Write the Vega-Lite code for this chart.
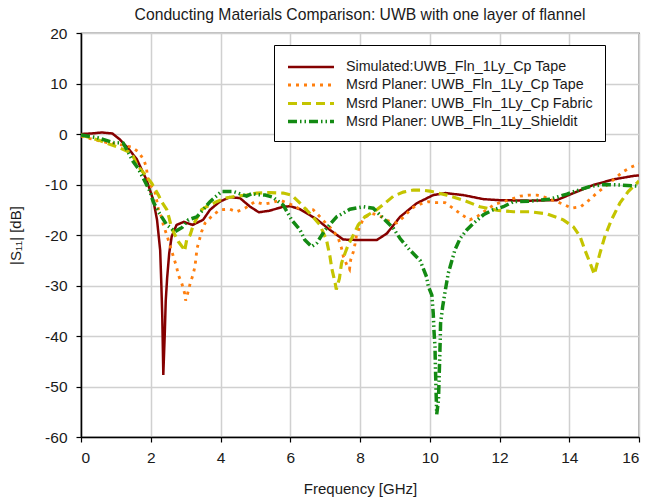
{
  "$schema": "https://vega.github.io/schema/vega-lite/v6.json",
  "width": 558,
  "height": 404,
  "autosize": "none",
  "padding": {"left": 81, "top": 33, "right": 9, "bottom": 65},
  "title": {"text": "Conducting Materials Comparison: UWB with one layer of flannel", "fontSize": 15.7, "fontWeight": "normal", "color": "#1a1a1a", "anchor": "middle", "offset": 2, "font": "Liberation Sans"},
  "config": {
    "font": "Liberation Sans",
    "view": {"stroke": "black", "strokeWidth": 1.2},
    "axis": {"grid": true, "gridColor": "#D0D0D0", "gridWidth": 1.5, "domainColor": "black", "domainWidth": 1.5, "tickColor": "black", "tickSize": 5, "tickWidth": 1.2, "labelColor": "#1a1a1a", "labelFontSize": 15.5, "titleFontSize": 15, "titleFontWeight": "normal", "titleColor": "#1a1a1a"}
  },
  "data": {"values": [
    {"s":"Simulated:UWB_Fln_1Ly_Cp Tape","f":0,"db":0},{"s":"Simulated:UWB_Fln_1Ly_Cp Tape","f":0.3,"db":0.1},{"s":"Simulated:UWB_Fln_1Ly_Cp Tape","f":0.6,"db":0.3},{"s":"Simulated:UWB_Fln_1Ly_Cp Tape","f":0.9,"db":0.1},{"s":"Simulated:UWB_Fln_1Ly_Cp Tape","f":1.1,"db":-1.0},{"s":"Simulated:UWB_Fln_1Ly_Cp Tape","f":1.35,"db":-2.8},{"s":"Simulated:UWB_Fln_1Ly_Cp Tape","f":1.6,"db":-5},{"s":"Simulated:UWB_Fln_1Ly_Cp Tape","f":1.88,"db":-9.1},{"s":"Simulated:UWB_Fln_1Ly_Cp Tape","f":2.07,"db":-13},{"s":"Simulated:UWB_Fln_1Ly_Cp Tape","f":2.18,"db":-17},{"s":"Simulated:UWB_Fln_1Ly_Cp Tape","f":2.27,"db":-23},{"s":"Simulated:UWB_Fln_1Ly_Cp Tape","f":2.3,"db":-29},{"s":"Simulated:UWB_Fln_1Ly_Cp Tape","f":2.33,"db":-36},{"s":"Simulated:UWB_Fln_1Ly_Cp Tape","f":2.36,"db":-47.7},{"s":"Simulated:UWB_Fln_1Ly_Cp Tape","f":2.4,"db":-40},{"s":"Simulated:UWB_Fln_1Ly_Cp Tape","f":2.43,"db":-33},{"s":"Simulated:UWB_Fln_1Ly_Cp Tape","f":2.47,"db":-28.5},{"s":"Simulated:UWB_Fln_1Ly_Cp Tape","f":2.53,"db":-23.6},{"s":"Simulated:UWB_Fln_1Ly_Cp Tape","f":2.6,"db":-20.3},{"s":"Simulated:UWB_Fln_1Ly_Cp Tape","f":2.74,"db":-18},{"s":"Simulated:UWB_Fln_1Ly_Cp Tape","f":2.95,"db":-17.4},{"s":"Simulated:UWB_Fln_1Ly_Cp Tape","f":3.2,"db":-18},{"s":"Simulated:UWB_Fln_1Ly_Cp Tape","f":3.5,"db":-17},{"s":"Simulated:UWB_Fln_1Ly_Cp Tape","f":3.7,"db":-15},{"s":"Simulated:UWB_Fln_1Ly_Cp Tape","f":3.98,"db":-13.4},{"s":"Simulated:UWB_Fln_1Ly_Cp Tape","f":4.27,"db":-12.5},{"s":"Simulated:UWB_Fln_1Ly_Cp Tape","f":4.56,"db":-12.7},{"s":"Simulated:UWB_Fln_1Ly_Cp Tape","f":4.85,"db":-14.4},{"s":"Simulated:UWB_Fln_1Ly_Cp Tape","f":5.1,"db":-15.5},{"s":"Simulated:UWB_Fln_1Ly_Cp Tape","f":5.4,"db":-15.2},{"s":"Simulated:UWB_Fln_1Ly_Cp Tape","f":5.8,"db":-14.4},{"s":"Simulated:UWB_Fln_1Ly_Cp Tape","f":6.0,"db":-14.3},{"s":"Simulated:UWB_Fln_1Ly_Cp Tape","f":6.28,"db":-14.9},{"s":"Simulated:UWB_Fln_1Ly_Cp Tape","f":6.76,"db":-16.9},{"s":"Simulated:UWB_Fln_1Ly_Cp Tape","f":7.14,"db":-19},{"s":"Simulated:UWB_Fln_1Ly_Cp Tape","f":7.52,"db":-20.9},{"s":"Simulated:UWB_Fln_1Ly_Cp Tape","f":8.0,"db":-21},{"s":"Simulated:UWB_Fln_1Ly_Cp Tape","f":8.48,"db":-21},{"s":"Simulated:UWB_Fln_1Ly_Cp Tape","f":8.77,"db":-19.7},{"s":"Simulated:UWB_Fln_1Ly_Cp Tape","f":9.15,"db":-16.4},{"s":"Simulated:UWB_Fln_1Ly_Cp Tape","f":9.63,"db":-13.7},{"s":"Simulated:UWB_Fln_1Ly_Cp Tape","f":10.1,"db":-12.1},{"s":"Simulated:UWB_Fln_1Ly_Cp Tape","f":10.45,"db":-11.7},{"s":"Simulated:UWB_Fln_1Ly_Cp Tape","f":10.96,"db":-12.1},{"s":"Simulated:UWB_Fln_1Ly_Cp Tape","f":11.54,"db":-12.9},{"s":"Simulated:UWB_Fln_1Ly_Cp Tape","f":12.0,"db":-13.1},{"s":"Simulated:UWB_Fln_1Ly_Cp Tape","f":12.87,"db":-13.2},{"s":"Simulated:UWB_Fln_1Ly_Cp Tape","f":13.64,"db":-13.1},{"s":"Simulated:UWB_Fln_1Ly_Cp Tape","f":14.12,"db":-11.7},{"s":"Simulated:UWB_Fln_1Ly_Cp Tape","f":14.69,"db":-10.1},{"s":"Simulated:UWB_Fln_1Ly_Cp Tape","f":15.26,"db":-9.0},{"s":"Simulated:UWB_Fln_1Ly_Cp Tape","f":15.84,"db":-8.3},{"s":"Simulated:UWB_Fln_1Ly_Cp Tape","f":16,"db":-8.2},

    {"s":"Msrd Planer: UWB_Fln_1Ly_Cp Tape","f":0,"db":-0.4},{"s":"Msrd Planer: UWB_Fln_1Ly_Cp Tape","f":0.26,"db":-0.9},{"s":"Msrd Planer: UWB_Fln_1Ly_Cp Tape","f":0.74,"db":-1.7},{"s":"Msrd Planer: UWB_Fln_1Ly_Cp Tape","f":1.2,"db":-2.2},{"s":"Msrd Planer: UWB_Fln_1Ly_Cp Tape","f":1.45,"db":-2.6},{"s":"Msrd Planer: UWB_Fln_1Ly_Cp Tape","f":1.64,"db":-3.5},{"s":"Msrd Planer: UWB_Fln_1Ly_Cp Tape","f":1.8,"db":-5.1},{"s":"Msrd Planer: UWB_Fln_1Ly_Cp Tape","f":1.87,"db":-6.5},{"s":"Msrd Planer: UWB_Fln_1Ly_Cp Tape","f":1.93,"db":-9.4},{"s":"Msrd Planer: UWB_Fln_1Ly_Cp Tape","f":2.12,"db":-11.4},{"s":"Msrd Planer: UWB_Fln_1Ly_Cp Tape","f":2.22,"db":-14.9},{"s":"Msrd Planer: UWB_Fln_1Ly_Cp Tape","f":2.31,"db":-16.5},{"s":"Msrd Planer: UWB_Fln_1Ly_Cp Tape","f":2.36,"db":-18},{"s":"Msrd Planer: UWB_Fln_1Ly_Cp Tape","f":2.46,"db":-20},{"s":"Msrd Planer: UWB_Fln_1Ly_Cp Tape","f":2.65,"db":-24.3},{"s":"Msrd Planer: UWB_Fln_1Ly_Cp Tape","f":2.74,"db":-26.3},{"s":"Msrd Planer: UWB_Fln_1Ly_Cp Tape","f":2.79,"db":-27.9},{"s":"Msrd Planer: UWB_Fln_1Ly_Cp Tape","f":2.89,"db":-29.6},{"s":"Msrd Planer: UWB_Fln_1Ly_Cp Tape","f":2.97,"db":-31.5},{"s":"Msrd Planer: UWB_Fln_1Ly_Cp Tape","f":3.0,"db":-33},{"s":"Msrd Planer: UWB_Fln_1Ly_Cp Tape","f":3.08,"db":-31},{"s":"Msrd Planer: UWB_Fln_1Ly_Cp Tape","f":3.13,"db":-29.6},{"s":"Msrd Planer: UWB_Fln_1Ly_Cp Tape","f":3.22,"db":-27.7},{"s":"Msrd Planer: UWB_Fln_1Ly_Cp Tape","f":3.27,"db":-26.1},{"s":"Msrd Planer: UWB_Fln_1Ly_Cp Tape","f":3.3,"db":-24.3},{"s":"Msrd Planer: UWB_Fln_1Ly_Cp Tape","f":3.33,"db":-22.6},{"s":"Msrd Planer: UWB_Fln_1Ly_Cp Tape","f":3.46,"db":-19.3},{"s":"Msrd Planer: UWB_Fln_1Ly_Cp Tape","f":3.56,"db":-17.6},{"s":"Msrd Planer: UWB_Fln_1Ly_Cp Tape","f":3.79,"db":-16},{"s":"Msrd Planer: UWB_Fln_1Ly_Cp Tape","f":3.99,"db":-15},{"s":"Msrd Planer: UWB_Fln_1Ly_Cp Tape","f":4.27,"db":-14.9},{"s":"Msrd Planer: UWB_Fln_1Ly_Cp Tape","f":4.46,"db":-15.4},{"s":"Msrd Planer: UWB_Fln_1Ly_Cp Tape","f":4.7,"db":-14.7},{"s":"Msrd Planer: UWB_Fln_1Ly_Cp Tape","f":4.99,"db":-13.4},{"s":"Msrd Planer: UWB_Fln_1Ly_Cp Tape","f":5.23,"db":-13.9},{"s":"Msrd Planer: UWB_Fln_1Ly_Cp Tape","f":5.47,"db":-13.6},{"s":"Msrd Planer: UWB_Fln_1Ly_Cp Tape","f":5.71,"db":-13.1},{"s":"Msrd Planer: UWB_Fln_1Ly_Cp Tape","f":6.0,"db":-13.9},{"s":"Msrd Planer: UWB_Fln_1Ly_Cp Tape","f":6.23,"db":-14.7},{"s":"Msrd Planer: UWB_Fln_1Ly_Cp Tape","f":6.47,"db":-14.9},{"s":"Msrd Planer: UWB_Fln_1Ly_Cp Tape","f":6.66,"db":-15.0},{"s":"Msrd Planer: UWB_Fln_1Ly_Cp Tape","f":6.85,"db":-16.4},{"s":"Msrd Planer: UWB_Fln_1Ly_Cp Tape","f":7.04,"db":-17.8},{"s":"Msrd Planer: UWB_Fln_1Ly_Cp Tape","f":7.23,"db":-19.1},{"s":"Msrd Planer: UWB_Fln_1Ly_Cp Tape","f":7.38,"db":-20.7},{"s":"Msrd Planer: UWB_Fln_1Ly_Cp Tape","f":7.47,"db":-22.6},{"s":"Msrd Planer: UWB_Fln_1Ly_Cp Tape","f":7.52,"db":-24.2},{"s":"Msrd Planer: UWB_Fln_1Ly_Cp Tape","f":7.62,"db":-25.9},{"s":"Msrd Planer: UWB_Fln_1Ly_Cp Tape","f":7.7,"db":-26.8},{"s":"Msrd Planer: UWB_Fln_1Ly_Cp Tape","f":7.73,"db":-25},{"s":"Msrd Planer: UWB_Fln_1Ly_Cp Tape","f":7.81,"db":-23.3},{"s":"Msrd Planer: UWB_Fln_1Ly_Cp Tape","f":7.86,"db":-21.7},{"s":"Msrd Planer: UWB_Fln_1Ly_Cp Tape","f":7.9,"db":-20},{"s":"Msrd Planer: UWB_Fln_1Ly_Cp Tape","f":8.0,"db":-18.3},{"s":"Msrd Planer: UWB_Fln_1Ly_Cp Tape","f":8.1,"db":-16.7},{"s":"Msrd Planer: UWB_Fln_1Ly_Cp Tape","f":8.33,"db":-15.7},{"s":"Msrd Planer: UWB_Fln_1Ly_Cp Tape","f":8.57,"db":-16.2},{"s":"Msrd Planer: UWB_Fln_1Ly_Cp Tape","f":8.81,"db":-17.2},{"s":"Msrd Planer: UWB_Fln_1Ly_Cp Tape","f":9.05,"db":-17.6},{"s":"Msrd Planer: UWB_Fln_1Ly_Cp Tape","f":9.29,"db":-16.2},{"s":"Msrd Planer: UWB_Fln_1Ly_Cp Tape","f":9.48,"db":-14.7},{"s":"Msrd Planer: UWB_Fln_1Ly_Cp Tape","f":9.72,"db":-13.9},{"s":"Msrd Planer: UWB_Fln_1Ly_Cp Tape","f":9.96,"db":-13.4},{"s":"Msrd Planer: UWB_Fln_1Ly_Cp Tape","f":10.2,"db":-13.6},{"s":"Msrd Planer: UWB_Fln_1Ly_Cp Tape","f":10.44,"db":-13.6},{"s":"Msrd Planer: UWB_Fln_1Ly_Cp Tape","f":10.67,"db":-14.7},{"s":"Msrd Planer: UWB_Fln_1Ly_Cp Tape","f":10.92,"db":-16.0},{"s":"Msrd Planer: UWB_Fln_1Ly_Cp Tape","f":11.15,"db":-17.0},{"s":"Msrd Planer: UWB_Fln_1Ly_Cp Tape","f":11.39,"db":-16.2},{"s":"Msrd Planer: UWB_Fln_1Ly_Cp Tape","f":11.63,"db":-15.0},{"s":"Msrd Planer: UWB_Fln_1Ly_Cp Tape","f":11.87,"db":-13.9},{"s":"Msrd Planer: UWB_Fln_1Ly_Cp Tape","f":12.11,"db":-13.4},{"s":"Msrd Planer: UWB_Fln_1Ly_Cp Tape","f":12.35,"db":-12.9},{"s":"Msrd Planer: UWB_Fln_1Ly_Cp Tape","f":12.59,"db":-12.3},{"s":"Msrd Planer: UWB_Fln_1Ly_Cp Tape","f":12.85,"db":-12.1},{"s":"Msrd Planer: UWB_Fln_1Ly_Cp Tape","f":13.08,"db":-12.1},{"s":"Msrd Planer: UWB_Fln_1Ly_Cp Tape","f":13.33,"db":-12.6},{"s":"Msrd Planer: UWB_Fln_1Ly_Cp Tape","f":13.56,"db":-13.2},{"s":"Msrd Planer: UWB_Fln_1Ly_Cp Tape","f":13.83,"db":-13.9},{"s":"Msrd Planer: UWB_Fln_1Ly_Cp Tape","f":14.07,"db":-14.7},{"s":"Msrd Planer: UWB_Fln_1Ly_Cp Tape","f":14.33,"db":-14.4},{"s":"Msrd Planer: UWB_Fln_1Ly_Cp Tape","f":14.55,"db":-13.2},{"s":"Msrd Planer: UWB_Fln_1Ly_Cp Tape","f":14.79,"db":-11.7},{"s":"Msrd Planer: UWB_Fln_1Ly_Cp Tape","f":15.05,"db":-10.3},{"s":"Msrd Planer: UWB_Fln_1Ly_Cp Tape","f":15.28,"db":-9.0},{"s":"Msrd Planer: UWB_Fln_1Ly_Cp Tape","f":15.53,"db":-7.5},{"s":"Msrd Planer: UWB_Fln_1Ly_Cp Tape","f":15.76,"db":-6.6},{"s":"Msrd Planer: UWB_Fln_1Ly_Cp Tape","f":16.0,"db":-5.9},

    {"s":"Msrd Planer: UWB_Fln_1Ly_Cp Fabric","f":0,"db":-0.2},{"s":"Msrd Planer: UWB_Fln_1Ly_Cp Fabric","f":0.5,"db":-1.2},{"s":"Msrd Planer: UWB_Fln_1Ly_Cp Fabric","f":0.74,"db":-1.8},{"s":"Msrd Planer: UWB_Fln_1Ly_Cp Fabric","f":1.02,"db":-2.5},{"s":"Msrd Planer: UWB_Fln_1Ly_Cp Fabric","f":1.36,"db":-3.5},{"s":"Msrd Planer: UWB_Fln_1Ly_Cp Fabric","f":1.5,"db":-4.5},{"s":"Msrd Planer: UWB_Fln_1Ly_Cp Fabric","f":1.6,"db":-6.1},{"s":"Msrd Planer: UWB_Fln_1Ly_Cp Fabric","f":1.88,"db":-8.4},{"s":"Msrd Planer: UWB_Fln_1Ly_Cp Fabric","f":2.03,"db":-9.8},{"s":"Msrd Planer: UWB_Fln_1Ly_Cp Fabric","f":2.22,"db":-12.1},{"s":"Msrd Planer: UWB_Fln_1Ly_Cp Fabric","f":2.31,"db":-13.4},{"s":"Msrd Planer: UWB_Fln_1Ly_Cp Fabric","f":2.46,"db":-15},{"s":"Msrd Planer: UWB_Fln_1Ly_Cp Fabric","f":2.53,"db":-16.7},{"s":"Msrd Planer: UWB_Fln_1Ly_Cp Fabric","f":2.6,"db":-18.7},{"s":"Msrd Planer: UWB_Fln_1Ly_Cp Fabric","f":2.79,"db":-21.3},{"s":"Msrd Planer: UWB_Fln_1Ly_Cp Fabric","f":2.93,"db":-22.6},{"s":"Msrd Planer: UWB_Fln_1Ly_Cp Fabric","f":2.97,"db":-23.2},{"s":"Msrd Planer: UWB_Fln_1Ly_Cp Fabric","f":3.03,"db":-21},{"s":"Msrd Planer: UWB_Fln_1Ly_Cp Fabric","f":3.13,"db":-20},{"s":"Msrd Planer: UWB_Fln_1Ly_Cp Fabric","f":3.22,"db":-18},{"s":"Msrd Planer: UWB_Fln_1Ly_Cp Fabric","f":3.32,"db":-16.7},{"s":"Msrd Planer: UWB_Fln_1Ly_Cp Fabric","f":3.46,"db":-15},{"s":"Msrd Planer: UWB_Fln_1Ly_Cp Fabric","f":3.6,"db":-14.4},{"s":"Msrd Planer: UWB_Fln_1Ly_Cp Fabric","f":3.89,"db":-13.4},{"s":"Msrd Planer: UWB_Fln_1Ly_Cp Fabric","f":4.13,"db":-12.7},{"s":"Msrd Planer: UWB_Fln_1Ly_Cp Fabric","f":4.46,"db":-12.3},{"s":"Msrd Planer: UWB_Fln_1Ly_Cp Fabric","f":4.75,"db":-12.1},{"s":"Msrd Planer: UWB_Fln_1Ly_Cp Fabric","f":5.04,"db":-11.7},{"s":"Msrd Planer: UWB_Fln_1Ly_Cp Fabric","f":5.4,"db":-11.6},{"s":"Msrd Planer: UWB_Fln_1Ly_Cp Fabric","f":5.8,"db":-11.7},{"s":"Msrd Planer: UWB_Fln_1Ly_Cp Fabric","f":6.04,"db":-12.1},{"s":"Msrd Planer: UWB_Fln_1Ly_Cp Fabric","f":6.28,"db":-13.7},{"s":"Msrd Planer: UWB_Fln_1Ly_Cp Fabric","f":6.56,"db":-15.7},{"s":"Msrd Planer: UWB_Fln_1Ly_Cp Fabric","f":6.85,"db":-18},{"s":"Msrd Planer: UWB_Fln_1Ly_Cp Fabric","f":7.04,"db":-21},{"s":"Msrd Planer: UWB_Fln_1Ly_Cp Fabric","f":7.14,"db":-24.3},{"s":"Msrd Planer: UWB_Fln_1Ly_Cp Fabric","f":7.19,"db":-26.6},{"s":"Msrd Planer: UWB_Fln_1Ly_Cp Fabric","f":7.29,"db":-29.6},{"s":"Msrd Planer: UWB_Fln_1Ly_Cp Fabric","f":7.32,"db":-30.8},{"s":"Msrd Planer: UWB_Fln_1Ly_Cp Fabric","f":7.41,"db":-28.6},{"s":"Msrd Planer: UWB_Fln_1Ly_Cp Fabric","f":7.47,"db":-25.6},{"s":"Msrd Planer: UWB_Fln_1Ly_Cp Fabric","f":7.57,"db":-23.6},{"s":"Msrd Planer: UWB_Fln_1Ly_Cp Fabric","f":7.66,"db":-22},{"s":"Msrd Planer: UWB_Fln_1Ly_Cp Fabric","f":7.81,"db":-20},{"s":"Msrd Planer: UWB_Fln_1Ly_Cp Fabric","f":7.95,"db":-18},{"s":"Msrd Planer: UWB_Fln_1Ly_Cp Fabric","f":8.14,"db":-16.4},{"s":"Msrd Planer: UWB_Fln_1Ly_Cp Fabric","f":8.48,"db":-15},{"s":"Msrd Planer: UWB_Fln_1Ly_Cp Fabric","f":8.7,"db":-13.8},{"s":"Msrd Planer: UWB_Fln_1Ly_Cp Fabric","f":8.96,"db":-12.3},{"s":"Msrd Planer: UWB_Fln_1Ly_Cp Fabric","f":9.24,"db":-11.5},{"s":"Msrd Planer: UWB_Fln_1Ly_Cp Fabric","f":9.53,"db":-11.1},{"s":"Msrd Planer: UWB_Fln_1Ly_Cp Fabric","f":9.75,"db":-11.1},{"s":"Msrd Planer: UWB_Fln_1Ly_Cp Fabric","f":10.0,"db":-11.3},{"s":"Msrd Planer: UWB_Fln_1Ly_Cp Fabric","f":10.49,"db":-12.1},{"s":"Msrd Planer: UWB_Fln_1Ly_Cp Fabric","f":10.96,"db":-13.1},{"s":"Msrd Planer: UWB_Fln_1Ly_Cp Fabric","f":11.44,"db":-14.4},{"s":"Msrd Planer: UWB_Fln_1Ly_Cp Fabric","f":11.92,"db":-15.1},{"s":"Msrd Planer: UWB_Fln_1Ly_Cp Fabric","f":12.4,"db":-15.4},{"s":"Msrd Planer: UWB_Fln_1Ly_Cp Fabric","f":12.87,"db":-15.4},{"s":"Msrd Planer: UWB_Fln_1Ly_Cp Fabric","f":13.35,"db":-15.8},{"s":"Msrd Planer: UWB_Fln_1Ly_Cp Fabric","f":13.83,"db":-17.0},{"s":"Msrd Planer: UWB_Fln_1Ly_Cp Fabric","f":14.12,"db":-18.4},{"s":"Msrd Planer: UWB_Fln_1Ly_Cp Fabric","f":14.31,"db":-20.3},{"s":"Msrd Planer: UWB_Fln_1Ly_Cp Fabric","f":14.45,"db":-23},{"s":"Msrd Planer: UWB_Fln_1Ly_Cp Fabric","f":14.6,"db":-25.6},{"s":"Msrd Planer: UWB_Fln_1Ly_Cp Fabric","f":14.72,"db":-27.8},{"s":"Msrd Planer: UWB_Fln_1Ly_Cp Fabric","f":14.88,"db":-23.6},{"s":"Msrd Planer: UWB_Fln_1Ly_Cp Fabric","f":15.02,"db":-20.3},{"s":"Msrd Planer: UWB_Fln_1Ly_Cp Fabric","f":15.21,"db":-17},{"s":"Msrd Planer: UWB_Fln_1Ly_Cp Fabric","f":15.45,"db":-13.7},{"s":"Msrd Planer: UWB_Fln_1Ly_Cp Fabric","f":15.69,"db":-11.4},{"s":"Msrd Planer: UWB_Fln_1Ly_Cp Fabric","f":15.93,"db":-9.8},{"s":"Msrd Planer: UWB_Fln_1Ly_Cp Fabric","f":16,"db":-9.3},

    {"s":"Msrd Planer: UWB_Fln_1Ly_Shieldit","f":0,"db":-0.2},{"s":"Msrd Planer: UWB_Fln_1Ly_Shieldit","f":0.5,"db":-0.8},{"s":"Msrd Planer: UWB_Fln_1Ly_Shieldit","f":0.93,"db":-1.7},{"s":"Msrd Planer: UWB_Fln_1Ly_Shieldit","f":1.21,"db":-1.8},{"s":"Msrd Planer: UWB_Fln_1Ly_Shieldit","f":1.5,"db":-5.5},{"s":"Msrd Planer: UWB_Fln_1Ly_Shieldit","f":1.64,"db":-6.8},{"s":"Msrd Planer: UWB_Fln_1Ly_Shieldit","f":1.98,"db":-11.4},{"s":"Msrd Planer: UWB_Fln_1Ly_Shieldit","f":2.07,"db":-13.4},{"s":"Msrd Planer: UWB_Fln_1Ly_Shieldit","f":2.22,"db":-15.4},{"s":"Msrd Planer: UWB_Fln_1Ly_Shieldit","f":2.46,"db":-18},{"s":"Msrd Planer: UWB_Fln_1Ly_Shieldit","f":2.7,"db":-19.3},{"s":"Msrd Planer: UWB_Fln_1Ly_Shieldit","f":2.9,"db":-18.5},{"s":"Msrd Planer: UWB_Fln_1Ly_Shieldit","f":3.08,"db":-17},{"s":"Msrd Planer: UWB_Fln_1Ly_Shieldit","f":3.32,"db":-16.4},{"s":"Msrd Planer: UWB_Fln_1Ly_Shieldit","f":3.5,"db":-15},{"s":"Msrd Planer: UWB_Fln_1Ly_Shieldit","f":3.7,"db":-13.4},{"s":"Msrd Planer: UWB_Fln_1Ly_Shieldit","f":4.03,"db":-11.4},{"s":"Msrd Planer: UWB_Fln_1Ly_Shieldit","f":4.37,"db":-11.4},{"s":"Msrd Planer: UWB_Fln_1Ly_Shieldit","f":4.75,"db":-12.3},{"s":"Msrd Planer: UWB_Fln_1Ly_Shieldit","f":4.9,"db":-11.8},{"s":"Msrd Planer: UWB_Fln_1Ly_Shieldit","f":5.04,"db":-12.0},{"s":"Msrd Planer: UWB_Fln_1Ly_Shieldit","f":5.28,"db":-12.1},{"s":"Msrd Planer: UWB_Fln_1Ly_Shieldit","f":5.5,"db":-12.5},{"s":"Msrd Planer: UWB_Fln_1Ly_Shieldit","f":5.8,"db":-14.1},{"s":"Msrd Planer: UWB_Fln_1Ly_Shieldit","f":6.04,"db":-17},{"s":"Msrd Planer: UWB_Fln_1Ly_Shieldit","f":6.28,"db":-19},{"s":"Msrd Planer: UWB_Fln_1Ly_Shieldit","f":6.42,"db":-21},{"s":"Msrd Planer: UWB_Fln_1Ly_Shieldit","f":6.61,"db":-22.3},{"s":"Msrd Planer: UWB_Fln_1Ly_Shieldit","f":6.76,"db":-21.6},{"s":"Msrd Planer: UWB_Fln_1Ly_Shieldit","f":7.0,"db":-19},{"s":"Msrd Planer: UWB_Fln_1Ly_Shieldit","f":7.33,"db":-16.4},{"s":"Msrd Planer: UWB_Fln_1Ly_Shieldit","f":7.71,"db":-14.9},{"s":"Msrd Planer: UWB_Fln_1Ly_Shieldit","f":8.1,"db":-14.4},{"s":"Msrd Planer: UWB_Fln_1Ly_Shieldit","f":8.38,"db":-14.7},{"s":"Msrd Planer: UWB_Fln_1Ly_Shieldit","f":8.67,"db":-16.7},{"s":"Msrd Planer: UWB_Fln_1Ly_Shieldit","f":8.96,"db":-18.7},{"s":"Msrd Planer: UWB_Fln_1Ly_Shieldit","f":9.15,"db":-20.7},{"s":"Msrd Planer: UWB_Fln_1Ly_Shieldit","f":9.43,"db":-23},{"s":"Msrd Planer: UWB_Fln_1Ly_Shieldit","f":9.72,"db":-25},{"s":"Msrd Planer: UWB_Fln_1Ly_Shieldit","f":9.91,"db":-28.3},{"s":"Msrd Planer: UWB_Fln_1Ly_Shieldit","f":9.96,"db":-30.2},{"s":"Msrd Planer: UWB_Fln_1Ly_Shieldit","f":10.06,"db":-31.9},{"s":"Msrd Planer: UWB_Fln_1Ly_Shieldit","f":10.1,"db":-35.5},{"s":"Msrd Planer: UWB_Fln_1Ly_Shieldit","f":10.12,"db":-38.8},{"s":"Msrd Planer: UWB_Fln_1Ly_Shieldit","f":10.15,"db":-42.1},{"s":"Msrd Planer: UWB_Fln_1Ly_Shieldit","f":10.16,"db":-45.4},{"s":"Msrd Planer: UWB_Fln_1Ly_Shieldit","f":10.18,"db":-50.7},{"s":"Msrd Planer: UWB_Fln_1Ly_Shieldit","f":10.2,"db":-55.5},{"s":"Msrd Planer: UWB_Fln_1Ly_Shieldit","f":10.25,"db":-52.7},{"s":"Msrd Planer: UWB_Fln_1Ly_Shieldit","f":10.27,"db":-48},{"s":"Msrd Planer: UWB_Fln_1Ly_Shieldit","f":10.29,"db":-43.4},{"s":"Msrd Planer: UWB_Fln_1Ly_Shieldit","f":10.3,"db":-40.8},{"s":"Msrd Planer: UWB_Fln_1Ly_Shieldit","f":10.31,"db":-37.5},{"s":"Msrd Planer: UWB_Fln_1Ly_Shieldit","f":10.37,"db":-34.2},{"s":"Msrd Planer: UWB_Fln_1Ly_Shieldit","f":10.44,"db":-31.2},{"s":"Msrd Planer: UWB_Fln_1Ly_Shieldit","f":10.49,"db":-29.2},{"s":"Msrd Planer: UWB_Fln_1Ly_Shieldit","f":10.53,"db":-27.6},{"s":"Msrd Planer: UWB_Fln_1Ly_Shieldit","f":10.72,"db":-23},{"s":"Msrd Planer: UWB_Fln_1Ly_Shieldit","f":10.87,"db":-20.7},{"s":"Msrd Planer: UWB_Fln_1Ly_Shieldit","f":11.06,"db":-19},{"s":"Msrd Planer: UWB_Fln_1Ly_Shieldit","f":11.25,"db":-17.7},{"s":"Msrd Planer: UWB_Fln_1Ly_Shieldit","f":11.54,"db":-16},{"s":"Msrd Planer: UWB_Fln_1Ly_Shieldit","f":11.82,"db":-15},{"s":"Msrd Planer: UWB_Fln_1Ly_Shieldit","f":12.11,"db":-14.4},{"s":"Msrd Planer: UWB_Fln_1Ly_Shieldit","f":12.4,"db":-13.4},{"s":"Msrd Planer: UWB_Fln_1Ly_Shieldit","f":12.87,"db":-13.3},{"s":"Msrd Planer: UWB_Fln_1Ly_Shieldit","f":13.45,"db":-12.9},{"s":"Msrd Planer: UWB_Fln_1Ly_Shieldit","f":13.93,"db":-11.9},{"s":"Msrd Planer: UWB_Fln_1Ly_Shieldit","f":14.31,"db":-11.0},{"s":"Msrd Planer: UWB_Fln_1Ly_Shieldit","f":14.6,"db":-10.4},{"s":"Msrd Planer: UWB_Fln_1Ly_Shieldit","f":14.98,"db":-10.0},{"s":"Msrd Planer: UWB_Fln_1Ly_Shieldit","f":15.45,"db":-10.1},{"s":"Msrd Planer: UWB_Fln_1Ly_Shieldit","f":15.93,"db":-10.3},{"s":"Msrd Planer: UWB_Fln_1Ly_Shieldit","f":16,"db":-10.3}
  ]},
  "mark": {"type": "line", "clip": true},
  "encoding": {
    "x": {"field": "f", "type": "quantitative", "scale": {"domain": [0, 16], "nice": false, "zero": false}, "axis": {"values": [0,2,4,6,8,10,12,14,16], "title": "Frequency [GHz]", "titlePadding": 16, "labelPadding": 8}},
    "y": {"field": "db", "type": "quantitative", "scale": {"domain": [-60, 20], "nice": false, "zero": false}, "axis": {"values": [-60,-50,-40,-30,-20,-10,0,10,20], "labelExpr": "'' + datum.value", "title": "|S₁₁| [dB]", "titlePadding": 21, "labelPadding": 9}},
    "color": {"field": "s", "type": "nominal", "scale": {"domain": ["Simulated:UWB_Fln_1Ly_Cp Tape", "Msrd Planer: UWB_Fln_1Ly_Cp Tape", "Msrd Planer: UWB_Fln_1Ly_Cp Fabric", "Msrd Planer: UWB_Fln_1Ly_Shieldit"], "range": ["#850000", "#FF7F0E", "#C4C400", "#138A13"]},
      "legend": {"title": null, "orient": "none", "legendX": 193, "legendY": 12, "strokeColor": "black", "fillColor": "white", "padding": 12, "symbolType": "M-1,0H4.41", "symbolSize": 289, "symbolStrokeWidth": 2.5, "labelFontSize": 14.3, "labelColor": "#1a1a1a", "labelLimit": 400, "rowPadding": 0, "labelOffset": 39}},
    "strokeDash": {"field": "s", "type": "nominal", "scale": {"domain": ["Simulated:UWB_Fln_1Ly_Cp Tape", "Msrd Planer: UWB_Fln_1Ly_Cp Tape", "Msrd Planer: UWB_Fln_1Ly_Cp Fabric", "Msrd Planer: UWB_Fln_1Ly_Shieldit"], "range": [[1, 0], [3, 5], [9, 5], [9, 3, 1.5, 3, 1.5, 3]]},
      "legend": {"title": null, "orient": "none", "legendX": 193, "legendY": 12, "strokeColor": "black", "fillColor": "white", "padding": 12, "symbolType": "M-1,0H4.41", "symbolSize": 289, "symbolStrokeWidth": 2.5, "labelFontSize": 14.3, "labelColor": "#1a1a1a", "labelLimit": 400, "rowPadding": 0, "labelOffset": 39}},
    "strokeWidth": {"field": "s", "type": "nominal", "legend": null, "scale": {"domain": ["Simulated:UWB_Fln_1Ly_Cp Tape", "Msrd Planer: UWB_Fln_1Ly_Cp Tape", "Msrd Planer: UWB_Fln_1Ly_Cp Fabric", "Msrd Planer: UWB_Fln_1Ly_Shieldit"], "range": [2.5, 3.5, 2.5, 2.2]}}
  }
}
